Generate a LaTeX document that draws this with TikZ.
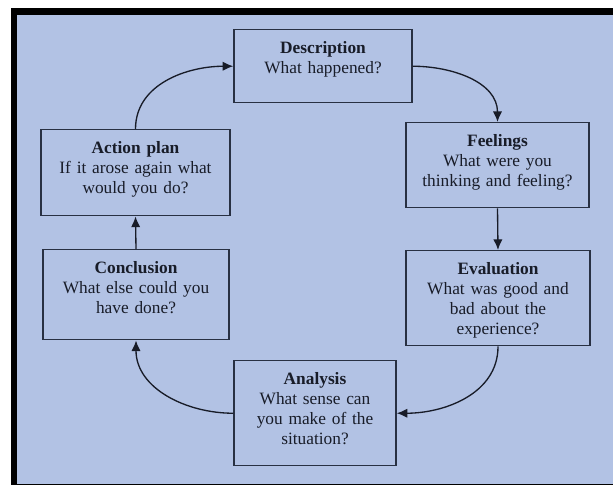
\documentclass[tikz,border=0pt]{standalone}
\usepackage{fontspec}
\setmainfont{Liberation Serif}
\usetikzlibrary{arrows.meta}
\definecolor{cyclebg}{RGB}{178,194,228}
\definecolor{cycleline}{RGB}{40,48,66}
\definecolor{cycletext}{RGB}{24,28,40}
\tikzset{stage/.style={draw=cycleline,line width=1.1pt,anchor=north,inner sep=0pt,align=center,
                       text=cycletext,text height=18pt,font=\fontsize{13}{15}\selectfont},
         flow/.style={-{Latex[length=8pt,width=7pt]},draw=cycletext,line width=1pt}}

\begin{document}
\begin{tikzpicture}[x=0.75pt,y=-0.75pt]
        \useasboundingbox (0,0) rectangle (613,485);
        \fill[black] (11,8) rectangle (613,485);
        \fill[cyclebg] (16.5,15) rectangle (613,483.5);

        \node[stage, text width=133.5pt, text depth=36.75pt](desc)at(323,29){\textbf{Description}\\What happened?};
        \node[stage, text width=137.25pt, text depth=45.75pt](feel)at(497.5,122){\textbf{Feelings}\\What were you\\thinking and feeling?};
        \node[stage, text width=138pt, text depth=53.25pt](eval)at(498,250){\textbf{Evaluation}\\What was good and\\bad about the\\experience?};
        \node[stage, text width=121.5pt, text depth=60.75pt](ana)at(315,360){\textbf{Analysis}\\What sense can\\you make of the\\situation?};
        \node[stage, text width=139.5pt, text depth=49.5pt](conc)at(136,249){\textbf{Conclusion}\\What else could you\\have done?};
        \node[stage, text width=141.75pt, text depth=46.5pt](act)at(135.5,129){\textbf{Action plan}\\If it arose again what\\would you do?};

        \draw[flow](desc.east) to[out=0,in=90] (feel.north);
        \draw[flow](feel.south)--(eval.north);
        \draw[flow](eval.south) to[out=-90,in=0] (ana.east);
        \draw[flow](ana.west) to[out=180,in=-90] (conc.south);
        \draw[flow](conc.north)--(act.south);
        \draw[flow](act.north) to[out=90,in=180] (desc.west);
\end{tikzpicture}
\end{document}
